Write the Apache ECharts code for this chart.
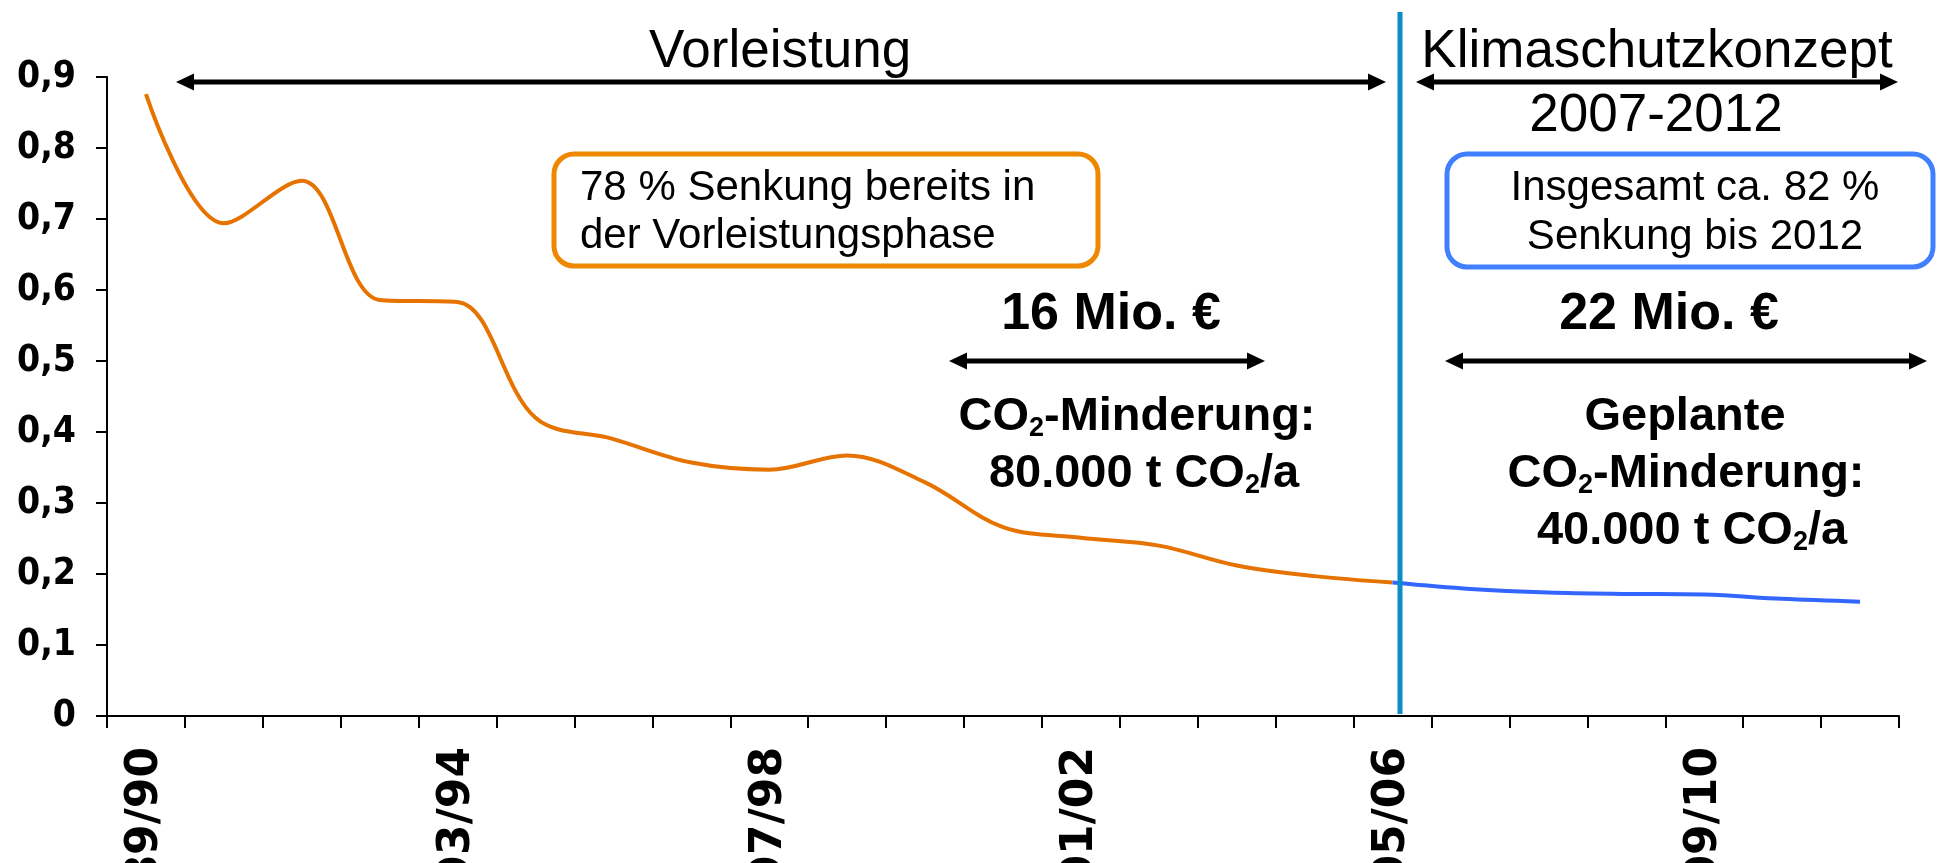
<!DOCTYPE html>
<html>
<head>
<meta charset="utf-8">
<title>CO2-Emissionen</title>
<script src="https://cdn.jsdelivr.net/npm/echarts@6.0.0/dist/echarts.min.js"></script>
<style>
  html, body { margin: 0; padding: 0; background: #fff; overflow: hidden; }
  #chart { width: 1937px; height: 863px; }
</style>
</head>
<body>
<div id="chart"></div>
<script>
// Heizperioden (x-Achse)
var categories = ['89/90', '90/91', '91/92', '92/93', '93/94', '94/95', '95/96', '96/97',
  '97/98', '98/99', '99/00', '00/01', '01/02', '02/03', '03/04', '04/05', '05/06',
  '06/07', '07/08', '08/09', '09/10', '10/11', '11/12'];
// nur diese Kategorien werden beschriftet
var shownLabels = ['89/90', '93/94', '97/98', '01/02', '05/06', '09/10'];
// Vorleistungsphase 89/90 - 05/06
var vorleistung = [0.876, 0.694, 0.754, 0.586, 0.583, 0.420, 0.390, 0.357, 0.347,
  0.367, 0.329, 0.266, 0.251, 0.240, 0.212, 0.197, 0.188];
// Klimaschutzkonzept 05/06 - 11/12
var klimaschutz = [0.188, 0.179, 0.174, 0.172, 0.171, 0.165, 0.161];
// y-Achse
var yMin = 0, yMax = 0.9, yStep = 0.1;

var AXIS_FONT = '"DejaVu Sans Condensed", "DejaVu Sans"';
var TEXT_FONT = '"Liberation Sans", Arial, sans-serif';

//fehlende Werte auffuellen, damit beide Linien auf derselben Achse liegen
var orangeData = vorleistung.concat(categories.slice(vorleistung.length).map(function () { return '-'; }));
var blueData = categories.slice(0, categories.length - klimaschutz.length)
  .map(function () { return '-'; }).concat(klimaschutz);

// Doppelpfeil
function arrow(x1, x2, y) {
  var len = 18, half = 8.5;
  return [
    { type: 'line', z: 100, shape: { x1: x1 + 10, y1: y, x2: x2 - 10, y2: y }, style: { stroke: '#000', lineWidth: 5 } },
    { type: 'polygon', z: 100, shape: { points: [[x1, y], [x1 + len, y - half], [x1 + len, y + half]] }, style: { fill: '#000' } },
    { type: 'polygon', z: 100, shape: { points: [[x2, y], [x2 - len, y - half], [x2 - len, y + half]] }, style: { fill: '#000' } }
  ];
}

function label(text, x, y, size, weight, align) {
  return {
    type: 'text', z: 100, x: x, y: y,
    style: {
      text: text, fill: '#000', fontSize: size, fontWeight: weight || 'normal',
      fontFamily: TEXT_FONT, align: align || 'center', verticalAlign: 'middle'
    }
  };
}

// CO2 mit tiefgestellter 2
var co2Rich = {
  b: { fontSize: 47, fontWeight: 'bold', fontFamily: TEXT_FONT, lineHeight: 50, fill: '#000' },
  s: { fontSize: 27, fontWeight: 'bold', fontFamily: TEXT_FONT, lineHeight: 14, verticalAlign: 'bottom', fill: '#000' }
};
function co2Label(text, x, y) {
  return {
    type: 'text', z: 100, x: x, y: y,
    style: { text: text, rich: co2Rich, fill: '#000', align: 'center', verticalAlign: 'middle' }
  };
}

var elements = []
  // Trennlinie 2005/06
  .concat([{ type: 'line', z: 90, shape: { x1: 1400, y1: 12, x2: 1400, y2: 714 }, style: { stroke: '#0A8CC6', lineWidth: 5 } }])
  .concat(arrow(176, 1386, 82))
  .concat(arrow(1416, 1898, 82))
  .concat(arrow(949, 1265, 361))
  .concat(arrow(1445, 1927, 361))
  .concat([
    label('Vorleistung', 780, 52, 53),
    label('Klimaschutzkonzept', 1657, 52, 53),
    label('2007-2012', 1656, 116, 53),
    // Kaesten
    { type: 'rect', z: 100, shape: { x: 554, y: 154, width: 544, height: 112, r: 20 }, style: { fill: 'none', stroke: '#EE8800', lineWidth: 5 } },
    { type: 'rect', z: 100, shape: { x: 1447, y: 154, width: 486, height: 113, r: 20 }, style: { fill: 'none', stroke: '#4080FF', lineWidth: 5 } },
    label('78 % Senkung bereits in', 580, 188, 42, 'normal', 'left'),
    label('der Vorleistungsphase', 580, 236, 42, 'normal', 'left'),
    label('Insgesamt ca. 82 %', 1695, 188, 42),
    label('Senkung bis 2012', 1695, 237, 42),
    label('16 Mio. €', 1111, 315, 52, 'bold'),
    label('22 Mio. €', 1669, 315, 52, 'bold'),
    co2Label('{b|CO}{s|2}{b|-Minderung:}', 1137, 417),
    co2Label('{b|80.000 t CO}{s|2}{b|/a}', 1144, 474),
    label('Geplante', 1685, 417, 47, 'bold'),
    co2Label('{b|CO}{s|2}{b|-Minderung:}', 1686, 474),
    co2Label('{b|40.000 t CO}{s|2}{b|/a}', 1692, 531)
  ]);

var chart = echarts.init(document.getElementById('chart'));
chart.setOption({
  backgroundColor: '#fff',
  animation: false,
  grid: { left: 107, right: 38, top: 77, bottom: 147, outerBoundsMode: 'none', containLabel: false },
  xAxis: {
    type: 'category',
    data: categories,
    boundaryGap: true,
    axisLine: { show: true, lineStyle: { color: '#000', width: 2 } },
    axisTick: { show: true, interval: 0, length: 12, lineStyle: { color: '#000', width: 2 } },
    axisLabel: {
      interval: function (idx, val) { return shownLabels.indexOf(val) >= 0; },
      rotate: 90,
      margin: 31,
      color: '#000',
      fontFamily: 'DejaVu Sans',
      fontWeight: 'bold',
      fontSize: 44
    },
    splitLine: { show: false }
  },
  yAxis: {
    type: 'value',
    min: yMin,
    max: yMax,
    interval: yStep,
    axisLine: { show: true, lineStyle: { color: '#000', width: 2 } },
    axisTick: { show: true, length: 11, lineStyle: { color: '#000', width: 2 } },
    axisLabel: {
      margin: 31,
      color: '#000',
      fontFamily: AXIS_FONT,
      fontWeight: 'bold',
      fontSize: 37,
      formatter: function (v) { return v === 0 ? '0' : v.toFixed(1).replace('.', ','); }
    },
    splitLine: { show: false }
  },
  series: [
    {
      name: 'Vorleistung',
      type: 'line',
      data: orangeData,
      smooth: 0.35,
      symbol: 'none',
      lineStyle: { color: '#E67300', width: 4 },
      itemStyle: { color: '#E67300' }
    },
    {
      name: 'Klimaschutzkonzept',
      type: 'line',
      data: blueData,
      smooth: 0.35,
      symbol: 'none',
      lineStyle: { color: '#3366FF', width: 4 },
      itemStyle: { color: '#3366FF' }
    }
  ],
  graphic: { elements: elements }
});
</script>
</body>
</html>
